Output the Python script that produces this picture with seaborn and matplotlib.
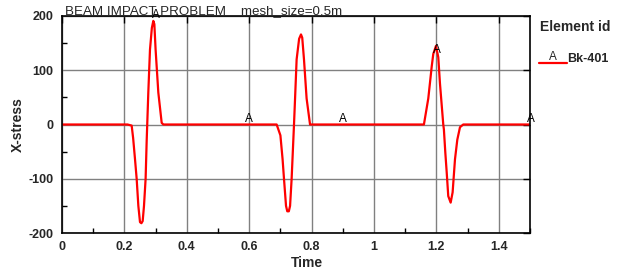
import numpy as np
import pandas as pd
import matplotlib
matplotlib.use("Agg")
import matplotlib.pyplot as plt
from matplotlib.lines import Line2D
from matplotlib.ticker import MultipleLocator
import seaborn as sns

time = [0.0, 0.21, 0.2233, 0.228, 0.234, 0.2393, 0.2447, 0.25, 0.2545, 0.2586,
        0.2628, 0.268, 0.2714, 0.2767, 0.282, 0.288, 0.2927, 0.296, 0.300, 0.3087,
        0.3195, 0.325,
        0.688, 0.700, 0.707, 0.7115, 0.718, 0.722, 0.727, 0.731, 0.736, 0.7436,
        0.747, 0.752, 0.760, 0.766, 0.770, 0.7756, 0.784, 0.795,
        1.160, 1.174, 1.185, 1.190, 1.1987, 1.206, 1.2115, 1.222, 1.224, 1.2286,
        1.233, 1.238, 1.2457, 1.252, 1.2596, 1.267, 1.2756, 1.286, 1.5]
stress = [0, 0, -2, -25, -64, -100, -150, -180, -182, -178,
          -150, -100, -30, 60, 138, 178, 191, 185, 138, 59,
          3, 0,
          0, -20, -64, -100, -150, -160, -160, -150, -100, 0,
          48, 120, 158, 166, 160, 120, 48, 0,
          0, 48, 107, 130, 145, 124, 75, 0, -9, -52,
          -88, -132, -144, -125, -64, -28, -5, 0, 0]

marker_t = [0.302, 0.6, 0.9, 1.201, 1.503]
marker_v = [190, 0, 0, 126, 0]
series_name = "Bk-401"
marker_label = "A"

sns.set_style("white")
plt.rcParams['font.family'] = ['Liberation Sans', 'DejaVu Sans']
plt.rcParams['axes.unicode_minus'] = False

df = pd.DataFrame({"Time": time, "X-stress": stress})

fig = plt.figure(figsize=(6.17, 2.71), dpi=100)
ax = fig.add_axes([62/617, 38/271, 468/617, 217/271])

sns.lineplot(data=df, x="Time", y="X-stress", color="red", linewidth=1.6, ax=ax)

ax.set_xlim(0, 1.5)
ax.set_ylim(-200, 200)
ax.xaxis.set_major_locator(MultipleLocator(0.2))
ax.xaxis.set_minor_locator(MultipleLocator(0.1))
ax.yaxis.set_major_locator(MultipleLocator(100))
ax.yaxis.set_minor_locator(MultipleLocator(50))
ax.set_xticklabels(["0" if abs(v) < 1e-9 else ("1" if abs(v-1) < 1e-9 else f"{v:g}") for v in ax.get_xticks()])
ax.grid(True, which="major", color="#808080", linewidth=1)
ax.set_axisbelow(True)
ax.tick_params(which="major", direction="in", length=5, width=1, color="black",
               labelsize=9, pad=6, right=True, top=True)
ax.tick_params(which="minor", direction="in", length=3.5, width=1, color="black",
               bottom=True, left=True)
for lab in ax.get_xticklabels() + ax.get_yticklabels():
    lab.set_fontweight("bold")
for sp in ax.spines.values():
    sp.set_color("black")
    sp.set_linewidth(1.2)

ax.set_xlabel("Time", fontsize=10, fontweight="bold")
ax.set_ylabel("X-stress", fontsize=10, fontweight="bold")
ax.xaxis.set_label_coords((307-62)/468, -0.105)
ax.yaxis.set_label_coords((25-62)/468, 0.5)

for t, v in zip(marker_t, marker_v):
    ax.text(t, v, marker_label, ha="center", va="bottom", fontsize=8.5,
            color="black", clip_on=False)

fig.text(65/617, 1 - 11.5/271, "BEAM IMPACT PROBLEM    mesh_size=0.5m",
         ha="left", va="center", fontsize=9.6)

fig.text(540/617, 1 - 27/271, "Element id", ha="left", va="center",
         fontsize=10, fontweight="bold")
fig.add_artist(Line2D([539/617, 567/617], [1 - 63/271, 1 - 63/271],
                      color="red", linewidth=1.6, transform=fig.transFigure))
fig.text(552.5/617, 1 - 63/271, marker_label, ha="center", va="bottom", fontsize=8.5)
fig.text(567/617, 1 - 59/271, series_name, ha="left", va="center",
         fontsize=9, fontweight="bold")

fig.savefig("out.png", dpi=100)
